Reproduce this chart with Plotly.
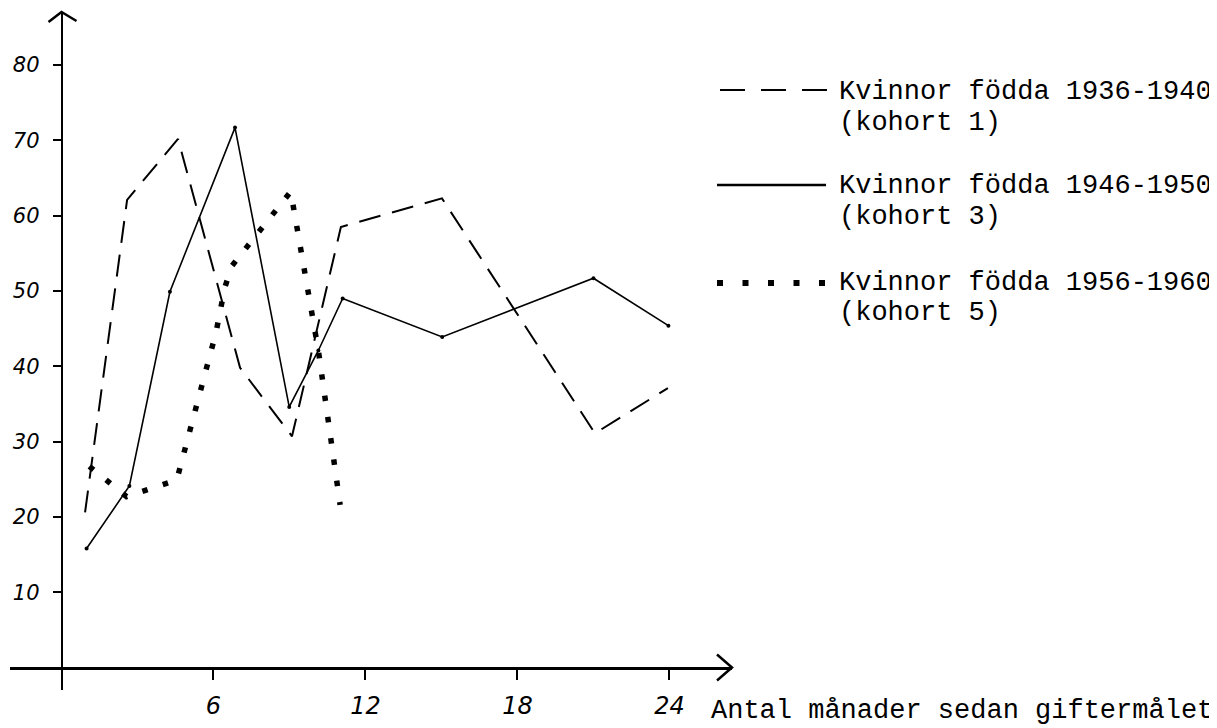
import plotly.graph_objects as go

# ---- data ----
k1_x = [0.93, 2.59, 4.6, 7.05, 9.1, 11.03, 15.02, 21.06, 23.94]
k1_y = [20.6, 62.1, 70.2, 39.8, 30.7, 58.5, 62.3, 31.1, 37.1]

k3_x = [0.99, 2.68, 4.28, 6.85, 8.99, 10.14, 11.1, 15.03, 21.0, 23.96]
k3_y = [15.8, 24.1, 49.9, 71.7, 34.6, 42.1, 49.0, 43.9, 51.7, 45.4]

k5_x = [1.1, 2.57, 4.55, 6.1, 6.45, 6.72, 9.05, 10.14, 11.0]
k5_y = [26.7, 22.7, 24.9, 44.5, 50.5, 53.3, 63.2, 42.1, 21.6]

legend_names = ["Kvinnor födda 1936-1940", "Kvinnor födda 1946-1950", "Kvinnor födda 1956-1960"]
legend_sub = ["(kohort 1)", "(kohort 3)", "(kohort 5)"]

x_ticks = [6, 12, 18, 24]
x_ticklabels = ["6", "12", "18", "24"]
y_ticks = [10, 20, 30, 40, 50, 60, 70, 80]
y_ticklabels = ["10", "20", "30", "40", "50", "60", "70", "80"]

x_title = "Antal månader sedan giftermålet"

# ---- geometry (page pixels; the page body has an 8px margin) ----
OFF = 8
W, H = 1217 - OFF, 728 - OFF
L, R, T, B = 10, 732, 12, 690          # plot area in page pixels
X0PX, PXM = 61.5, 25.33                # x=0 pixel, pixels per month
Y0PX, PXU = 667.5, 7.53                # y=0 pixel, pixels per unit
xr = [(L - X0PX) / PXM, (R - X0PX) / PXM]
yr = [(Y0PX - B) / PXU, (Y0PX - T) / PXU]


def fx(px):
    return (px - L) / (R - L)


def fy(py):
    return (B - py) / (B - T)


fig = go.Figure()
fig.add_trace(go.Scatter(x=k1_x, y=k1_y, mode="lines", name=legend_names[0],
                         line=dict(color="black", width=2, dash="22px,12px")))
fig.add_trace(go.Scatter(x=k3_x, y=k3_y, mode="lines+markers", name=legend_names[1],
                         line=dict(color="black", width=1.6),
                         marker=dict(size=4, color="black")))
fig.add_trace(go.Scatter(x=k5_x, y=k5_y, mode="lines", name=legend_names[2],
                         line=dict(color="black", width=5.5, dash="5.5px,16px")))

hand = dict(family="DejaVu Sans", color="black", style="italic")
mono = "Liberation Mono"

fig.update_layout(
    width=W, height=H,
    margin=dict(l=L - OFF, r=W - (R - OFF), t=T - OFF, b=H - (B - OFF), pad=0),
    paper_bgcolor="white", plot_bgcolor="white",
    showlegend=False,
    xaxis=dict(range=xr, anchor="free", position=fy(Y0PX), showgrid=False, zeroline=False,
               showline=True, linecolor="black", linewidth=3,
               tickmode="array", tickvals=x_ticks, ticktext=x_ticklabels,
               ticks="outside", ticklen=10, tickwidth=1.5, tickcolor="black",
               ticklabelstandoff=6,
               tickfont=dict(size=24, **hand)),
    yaxis=dict(range=yr, anchor="free", position=fx(X0PX), showgrid=False, zeroline=False,
               showline=True, linecolor="black", linewidth=1.5,
               tickmode="array", tickvals=y_ticks, ticktext=y_ticklabels,
               ticks="outside", ticklen=8, tickwidth=1.5, tickcolor="black",
               ticklabelstandoff=9,
               tickfont=dict(size=21, **hand)),
)

shapes = []
# axis arrowheads (open chevrons)
shapes.append(dict(type="path", xref="paper", yref="y", xsizemode="pixel", ysizemode="pixel",
                   xanchor=1, yanchor=0, path="M -15 13 L 0 0 L -15 -13",
                   line=dict(color="black", width=2.5)))
shapes.append(dict(type="path", xref="x", yref="paper", xsizemode="pixel", ysizemode="pixel",
                   xanchor=0, yanchor=1, path="M -13 -10 L 0 0 L 15 -9",
                   line=dict(color="black", width=2.5)))
# legend samples
shapes.append(dict(type="line", xref="paper", yref="paper", x0=fx(720), x1=fx(830),
                   y0=fy(90), y1=fy(90), line=dict(color="black", width=2, dash="25px,16px")))
shapes.append(dict(type="line", xref="paper", yref="paper", x0=fx(717), x1=fx(826),
                   y0=fy(185), y1=fy(185), line=dict(color="black", width=2.5)))
shapes.append(dict(type="line", xref="paper", yref="paper", x0=fx(717), x1=fx(827),
                   y0=fy(283), y1=fy(283), line=dict(color="black", width=6, dash="6px,19.5px")))
fig.update_layout(shapes=shapes)

ann = []
leg_y = [(92, 123), (186, 217), (283, 313)]
for name, sub, (y1, y2) in zip(legend_names, legend_sub, leg_y):
    ann.append(dict(text=name, xref="paper", yref="paper", x=fx(837), y=fy(y1),
                    xanchor="left", yanchor="middle", showarrow=False,
                    font=dict(family=mono, size=27, color="black")))
    ann.append(dict(text=sub, xref="paper", yref="paper", x=fx(837), y=fy(y2),
                    xanchor="left", yanchor="middle", showarrow=False,
                    font=dict(family=mono, size=27, color="black")))
ann.append(dict(text=x_title, xref="paper", yref="paper", x=fx(709), y=fy(711),
                xanchor="left", yanchor="middle", showarrow=False,
                font=dict(family=mono, size=27, color="black")))
fig.update_layout(annotations=ann)

fig.write_html("out.html")
